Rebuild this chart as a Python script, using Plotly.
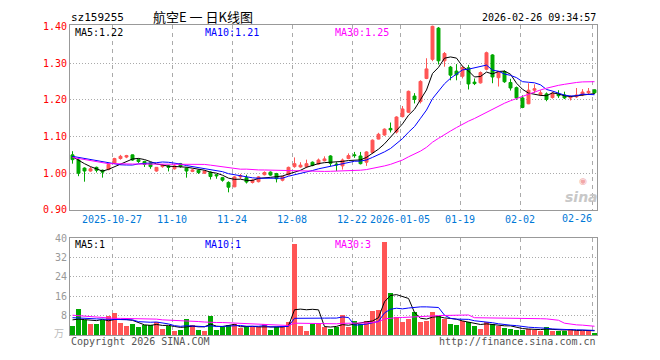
import plotly.graph_objects as go
import pandas as pd

# ---------------- data ----------------
holidays = ["2026-01-01", "2026-01-02", "2026-02-16", "2026-02-17", "2026-02-18",
            "2026-02-19", "2026-02-20", "2026-02-23"]
dates = [d.strftime("%Y-%m-%d") for d in pd.bdate_range("2025-10-16", "2026-02-26")
         if d.strftime("%Y-%m-%d") not in holidays]

opens = [1.050, 1.036, 1.014, 1.006, 1.016, 1.008, 1.010, 1.028, 1.040, 1.044,
         1.050, 1.037, 1.032, 1.028, 1.006, 1.018, 1.020, 1.012, 1.026, 1.014,
         1.005, 1.008, 1.000, 1.003, 0.996, 0.988, 0.975, 0.963, 0.990, 0.988,
         0.975, 0.977, 0.996, 1.003, 0.999, 0.981, 0.996, 1.018, 1.017, 1.018,
         1.030, 1.025, 1.034, 1.047, 1.025, 1.020, 1.040, 1.050, 1.047, 1.030,
         1.056, 1.093, 1.104, 1.122, 1.112, 1.154, 1.166, 1.210, 1.195, 1.258,
         1.310, 1.395, 1.306, 1.289, 1.278, 1.264, 1.287, 1.248, 1.246, 1.283,
         1.322, 1.260, 1.277, 1.247, 1.233, 1.205, 1.189, 1.226, 1.214, 1.216,
         1.206, 1.215, 1.213, 1.205, 1.208, 1.213, 1.219, 1.227]
highs = [1.060, 1.040, 1.016, 1.017, 1.018, 1.010, 1.027, 1.042, 1.050, 1.050,
         1.051, 1.040, 1.034, 1.030, 1.017, 1.025, 1.022, 1.024, 1.028, 1.016,
         1.012, 1.010, 1.008, 1.005, 0.998, 0.990, 0.978, 0.992, 0.998, 0.996,
         0.984, 0.992, 1.005, 1.005, 1.001, 0.993, 1.018, 1.043, 1.030, 1.037,
         1.032, 1.040, 1.046, 1.049, 1.030, 1.040, 1.054, 1.058, 1.058, 1.060,
         1.092, 1.110, 1.122, 1.138, 1.155, 1.183, 1.225, 1.218, 1.253, 1.313,
         1.402, 1.398, 1.330, 1.292, 1.297, 1.292, 1.295, 1.258, 1.277, 1.331,
         1.324, 1.278, 1.280, 1.257, 1.236, 1.212, 1.245, 1.242, 1.226, 1.220,
         1.222, 1.226, 1.222, 1.212, 1.232, 1.229, 1.232, 1.228]
lows = [1.026, 0.992, 0.977, 1.004, 1.002, 0.988, 1.008, 1.026, 1.037, 1.041,
        1.034, 1.028, 1.017, 1.012, 1.004, 1.015, 1.005, 1.010, 1.015, 0.988,
        1.003, 0.998, 0.998, 0.983, 0.985, 0.977, 0.948, 0.962, 0.985, 0.972,
        0.972, 0.975, 0.994, 0.993, 0.975, 0.978, 0.994, 1.015, 1.015, 1.014,
        1.019, 1.023, 1.032, 1.019, 1.006, 1.010, 1.038, 1.042, 1.024, 1.020,
        1.054, 1.092, 1.102, 1.111, 1.108, 1.152, 1.164, 1.190, 1.190, 1.256,
        1.305, 1.296, 1.290, 1.253, 1.253, 1.258, 1.228, 1.240, 1.244, 1.280,
        1.245, 1.236, 1.246, 1.225, 1.200, 1.177, 1.188, 1.218, 1.210, 1.196,
        1.203, 1.205, 1.202, 1.198, 1.205, 1.210, 1.215, 1.216]
closes = [1.037, 1.000, 1.006, 1.012, 1.008, 1.003, 1.024, 1.040, 1.046, 1.048,
          1.036, 1.032, 1.024, 1.018, 1.016, 1.022, 1.016, 1.020, 1.018, 1.006,
          1.009, 1.002, 1.006, 0.991, 0.993, 0.981, 0.962, 0.990, 0.993, 0.976,
          0.981, 0.990, 1.002, 0.995, 0.985, 0.991, 1.016, 1.026, 1.022, 1.026,
          1.021, 1.036, 1.039, 1.027, 1.023, 1.036, 1.048, 1.048, 1.026, 1.058,
          1.090, 1.106, 1.120, 1.118, 1.153, 1.175, 1.223, 1.201, 1.250, 1.284,
          1.400, 1.306, 1.326, 1.267, 1.268, 1.288, 1.243, 1.244, 1.274, 1.328,
          1.262, 1.277, 1.249, 1.232, 1.205, 1.179, 1.226, 1.230, 1.219, 1.201,
          1.218, 1.211, 1.205, 1.208, 1.213, 1.221, 1.223, 1.219]
volumes = [3.6, 10.9, 6.2, 4.6, 4.6, 6.2, 7.9, 9.0, 5.2, 3.8,
           4.6, 3.4, 4.2, 4.2, 5.6, 2.6, 3.6, 1.9, 2.3, 6.5,
           4.2, 2.3, 1.9, 7.8, 2.3, 3.3, 4.2, 4.6, 2.9, 3.2,
           3.2, 3.2, 4.5, 2.3, 3.2, 3.6, 5.6, 37.6, 3.6, 1.9,
           4.5, 4.5, 3.2, 2.6, 3.2, 8.2, 3.2, 5.8, 4.5, 5.8,
           9.8, 10.2, 38.4, 17.5, 7.5, 5.6, 6.6, 9.5, 5.6, 5.8,
           9.5, 7.9, 6.6, 4.6, 4.2, 6.0, 5.3, 3.8, 2.6, 5.6,
           4.5, 3.6, 2.9, 2.5, 2.3, 2.3, 2.6, 2.3, 1.9, 3.5,
           1.6, 1.6, 1.9, 2.6, 1.9, 1.9, 1.9, 0.7]

# moving-average values at the left edge (they depend on days before the window)
ma5_head = [1.045, 1.035, 1.026, 1.018]
ma10_head = [1.046, 1.043, 1.040, 1.037, 1.034, 1.030, 1.027, 1.024, 1.023]
ma30_head = [1.043, 1.040, 1.037, 1.034, 1.031, 1.028, 1.026, 1.026, 1.025, 1.025,
             1.025, 1.025, 1.025, 1.025, 1.025, 1.025, 1.025, 1.025, 1.025, 1.025,
             1.024, 1.024, 1.024, 1.022, 1.020, 1.018, 1.016, 1.013, 1.011]
vma5_head = [6.3, 6.6, 6.4, 6.2]
vma10_head = [7.2, 7.0, 6.9, 6.8, 6.7, 6.6, 6.5, 6.4, 6.3]
vma30_head = [8.2, 8.0, 7.8, 7.5, 7.2, 7.0, 6.9, 6.9, 6.9, 6.9,
              6.9, 6.9, 6.9, 6.8, 6.6, 6.3, 6.2, 6.2, 6.2, 6.0,
              5.7, 5.6, 5.4, 5.2, 5.2, 5.2, 5.1, 4.9, 4.7]

tick_dates = ["2025-10-27", "2025-11-10", "2025-11-24", "2025-12-08", "2025-12-22",
              "2026-01-05", "2026-01-19", "2026-02-02", "2026-02-26"]
tick_text = ["2025-10-27", "11-10", "11-24", "12-08", "12-22",
             "2026-01-05", "01-19", "02-02", "02-26"]
price_ticks = [0.90, 1.00, 1.10, 1.20, 1.30, 1.40]
vol_ticks = [8, 16, 24, 32, 40]

title_code = "sz159255"
title_name = "航空E 一 日K线图"
stamp = "2026-02-26 09:34:57"
ma_labels = ["MA5:1.22", "MA10:1.21", "MA30:1.25"]
vma_labels = ["MA5:1", "MA10:1", "MA30:3"]

# ---------------- derived series ----------------
def moving(vals, n, head):
    s = pd.Series(vals, dtype=float).rolling(n).mean()
    s.iloc[:len(head)] = head
    return s.tolist()

ma5 = moving(closes, 5, ma5_head)
ma10 = moving(closes, 10, ma10_head)
ma30 = moving(closes, 30, ma30_head)
vma5 = moving(volumes, 5, vma5_head)
vma10 = moving(volumes, 10, vma10_head)
vma30 = moving(volumes, 30, vma30_head)

RED = "#FF5555"
GREEN = "#00A800"
MA_COLORS = ["#000000", "#0000FF", "#FF00FF"]
MONO = "DejaVu Sans Mono"

N = len(dates)
xs = list(range(N))
half = 2.5 / 6.0
xrange_ = [-half, N - 1 + half]
tickpos = [dates.index(d) - half for d in tick_dates]

W, H = 660, 360
L, R = 70, 597
def px(x):
    return x / W
def py(y):
    return 1 - y / H

fig = go.Figure()

fig.add_trace(go.Candlestick(
    x=xs, open=opens, high=highs, low=lows, close=closes,
    increasing=dict(line=dict(color=RED, width=1), fillcolor=RED),
    decreasing=dict(line=dict(color=GREEN, width=1), fillcolor=GREEN),
    whiskerwidth=0, xaxis="x", yaxis="y", hoverinfo="skip"))

for vals, col in zip([ma5, ma10, ma30], MA_COLORS):
    fig.add_trace(go.Scatter(x=xs, y=vals, mode="lines", line=dict(color=col, width=1),
                             xaxis="x", yaxis="y", hoverinfo="skip"))

vcolors = [RED if c >= o else GREEN for o, c in zip(opens, closes)]
fig.add_trace(go.Bar(x=xs, y=volumes, marker=dict(color=vcolors, line=dict(width=0)),
                     width=0.8, xaxis="x2", yaxis="y2", hoverinfo="skip"))
for vals, col in zip([vma5, vma10, vma30], MA_COLORS):
    fig.add_trace(go.Scatter(x=xs, y=vals, mode="lines", line=dict(color=col, width=1),
                             xaxis="x2", yaxis="y2", hoverinfo="skip"))

common_x = dict(domain=[px(L), px(R)], range=xrange_, tickmode="array", tickvals=tickpos,
                showgrid=True, gridcolor="#AAAAAA", griddash="4px,4px", gridwidth=1,
                showline=True, mirror=True, linecolor="#999999", linewidth=1,
                zeroline=False, ticks="", fixedrange=True)
fig.update_layout(
    width=W, height=H, margin=dict(l=0, r=0, t=0, b=0),
    paper_bgcolor="white", plot_bgcolor="white", showlegend=False, hovermode=False,
    bargap=0, boxgap=0.3,
    xaxis=dict(common_x, anchor="y", ticktext=tick_text[:-1] + [""],
               tickfont=dict(family=MONO, size=10, color="#0078D7"),
               rangeslider=dict(visible=False)),
    xaxis2=dict(common_x, anchor="y2", matches="x", showticklabels=False),
    yaxis=dict(domain=[py(211), py(20)], range=[0.9, 1.4026], tickmode="array",
               tickvals=price_ticks, ticktext=["%.2f" % v for v in price_ticks],
               tickfont=dict(family=MONO, size=10, color="#FF0000"),
               showgrid=True, gridcolor="#AAAAAA", griddash="1px,2px",
               showline=True, mirror=True, linecolor="#999999", linewidth=1,
               zeroline=False, ticks="", fixedrange=True, anchor="x"),
    yaxis2=dict(domain=[py(340.5), py(240)], range=[0, 40], tickmode="array",
                tickvals=vol_ticks, ticktext=[str(v) for v in vol_ticks],
                tickfont=dict(family=MONO, size=10, color="#999999"),
                showgrid=True, gridcolor="#AAAAAA", griddash="1px,2px",
                showline=True, mirror=True, linecolor="#999999", linewidth=1,
                zeroline=False, ticks="", fixedrange=True, anchor="x2"),
)

ann = []
def text(x, y, s, color="#000000", size=10, family=MONO, xanchor="left", **kw):
    ann.append(dict(x=px(x), y=py(y), xref="paper", yref="paper", text=s, showarrow=False,
                    xanchor=xanchor, yanchor="middle",
                    font=dict(family=family, size=size, color=color, **kw)))

text(69, 12, title_code, size=11)
text(203, 11, title_name, size=13, family="Noto Sans CJK SC", xanchor="center")
text(598, 12, stamp, xanchor="right")
for s, xx, col in zip(ma_labels, [73, 203, 333], MA_COLORS):
    text(xx, 27.5, s, color=col)
for s, xx, col in zip(vma_labels, [73, 203, 333], MA_COLORS):
    text(xx, 247, s, color=col)
text(577, 220, tick_text[-1], color="#0078D7", xanchor="center")
text(69, 347, "Copyright 2026 SINA.COM", color="#555555")
text(598, 347, "http://finance.sina.com.cn", color="#555555", xanchor="right")
text(66, 338, "万", color="#BBBBBB", size=10, family="Noto Sans CJK SC", xanchor="right")
text(581, 198, "sina", color="#C8C8C8", size=14, family="DejaVu Sans",
     xanchor="center", weight="bold", style="italic")
text(583, 181, "◉", color="#F2A8A8", size=9, family="DejaVu Sans", xanchor="center")
fig.update_layout(annotations=ann)

fig.write_html("out.html", config=dict(displayModeBar=False, staticPlot=True))
